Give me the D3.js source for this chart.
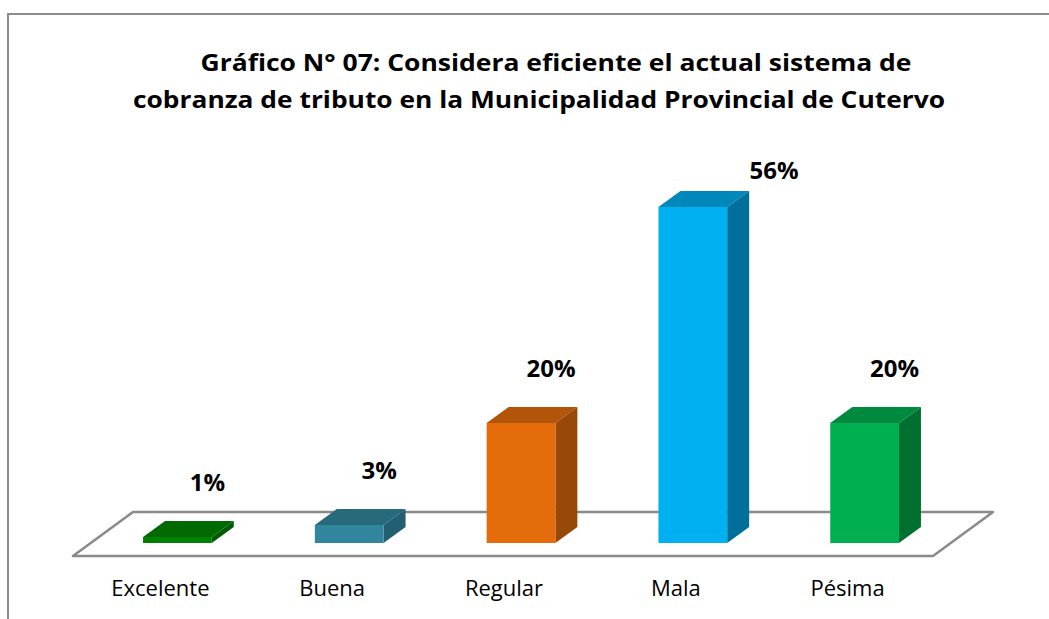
<!DOCTYPE html>
<html>
<head>
<meta charset="utf-8">
<script src="https://cdn.jsdelivr.net/npm/d3@7"></script>
<style>
  html, body { margin: 0; padding: 0; background: #fff; }
  svg { display: block; }
</style>
</head>
<body>
<div id="chart-container"></div>
<script>
// chart data
const categories = ['Excelente', 'Buena', 'Regular', 'Mala', 'Pésima']
const values = [1, 3, 20, 56, 20]
const valueLabels = ['1%', '3%', '20%', '56%', '20%']
const titleLines = [
    'Gráfico N° 07: Considera eficiente el actual sistema de',
    'cobranza de tributo en la Municipalidad Provincial de Cutervo'
]
// front, top, side shades per bar
const frontColors = ['#008000', '#31859c', '#e46c0a', '#00b0f0', '#00b050']
const topColors = ['#006a00', '#276a7c', '#b35508', '#0088bb', '#008a40']
const sideColors = ['#005c00', '#235f70', '#984807', '#006f99', '#007030']

const width = 1049
const height = 619
const depthX = 22, depthY = -16      // bar depth offset
const floorDX = 60, floorDY = -44    // floor depth offset
const plotTop = 179                  // highest baseline for a data label

const svg = d3.select('#chart-container')
    .append('svg')
    .attr('width', width)
    .attr('height', height)

// outer frame (clipped by the window on the right and bottom)
svg.append('rect')
    .attr('x', 8).attr('y', 14)
    .attr('width', 1100).attr('height', 700)
    .attr('fill', 'none')
    .attr('stroke', '#8c8c8c')
    .attr('stroke-width', 2)

// title, one text per line, squeezed to the reference widths
const titleFit = [{ cx: 556, y: 71, w: 711 }, { cx: 539, y: 108, w: 812 }]
svg.selectAll('.title')
    .data(titleLines)
    .enter()
    .append('text')
    .attr('class', 'title')
    .attr('x', (d, i) => titleFit[i].cx)
    .attr('y', (d, i) => titleFit[i].y)
    .attr('text-anchor', 'middle')
    .attr('textLength', (d, i) => titleFit[i].w)
    .attr('lengthAdjust', 'spacingAndGlyphs')
    .style('font-family', '"Open Sans", sans-serif')
    .style('font-weight', 'bold')
    .style('font-size', '24px')
    .style('fill', '#000')
    .text(d => d)

const x = d3.scaleBand()
    .domain(categories)
    .range([91.5, 950.5])
    .paddingInner(0.6)
    .paddingOuter(0.3)

const y = d3.scaleLinear()
    .domain([0, 60])
    .range([543, 183])

// floor
const fl = x.range()[0] - 18.5
const fr = x.range()[1] - 17.5
const fy = 556
svg.append('path')
    .attr('d', d3.line()([
        [fl, fy], [fr, fy], [fr + floorDX, fy + floorDY], [fl + floorDX, fy + floorDY]
    ]) + 'Z')
    .attr('fill', '#fff')
    .attr('stroke', '#8a8a8a')
    .attr('stroke-width', 2.5)
    .attr('stroke-linejoin', 'round')

// bars
const bars = svg.selectAll('.bar')
    .data(categories.map((c, i) => ({ cat: c, v: values[i], i: i })))
    .enter()
    .append('g')
    .attr('class', 'bar')

bars.each(function (d) {
    const g = d3.select(this)
    const x0 = x(d.cat)
    const x1 = x0 + x.bandwidth()
    const y0 = y(0)
    const y1 = y(d.v)
    // side face
    g.append('path')
        .attr('d', d3.line()([[x1, y0], [x1 + depthX, y0 + depthY], [x1 + depthX, y1 + depthY], [x1, y1]]) + 'Z')
        .attr('fill', sideColors[d.i])
    // top face
    g.append('path')
        .attr('d', d3.line()([[x0, y1], [x0 + depthX, y1 + depthY], [x1 + depthX, y1 + depthY], [x1, y1]]) + 'Z')
        .attr('fill', topColors[d.i])
    // front face
    g.append('rect')
        .attr('x', x0)
        .attr('y', y1)
        .attr('width', x.bandwidth())
        .attr('height', y0 - y1)
        .attr('fill', frontColors[d.i])
})

// value labels: above the bar, or beside it when it would leave the plot
function labelPos(cat, v) {
    const ly = y(v) - 46
    if (ly < plotTop) {
        return [x(cat) + x.bandwidth() + depthX + 25, plotTop]
    }
    return [x(cat) + x.bandwidth() / 2 + depthX + 8, ly]
}

svg.selectAll('.value')
    .data(categories)
    .enter()
    .append('text')
    .attr('class', 'value')
    .attr('x', (d, i) => labelPos(d, values[i])[0])
    .attr('y', (d, i) => labelPos(d, values[i])[1])
    .attr('text-anchor', 'middle')
    .style('font-family', '"Open Sans", sans-serif')
    .style('font-weight', 'bold')
    .style('font-size', '24px')
    .style('fill', '#000')
    .text((d, i) => valueLabels[i])

// category labels
svg.selectAll('.cat')
    .data(categories)
    .enter()
    .append('text')
    .attr('class', 'cat')
    .attr('x', d => x(d) + x.bandwidth() / 2 - 17)
    .attr('y', 596)
    .attr('text-anchor', 'middle')
    .style('font-family', '"Open Sans", sans-serif')
    .style('font-size', '22px')
    .style('fill', '#000')
    .text(d => d)
</script>
</body>
</html>
